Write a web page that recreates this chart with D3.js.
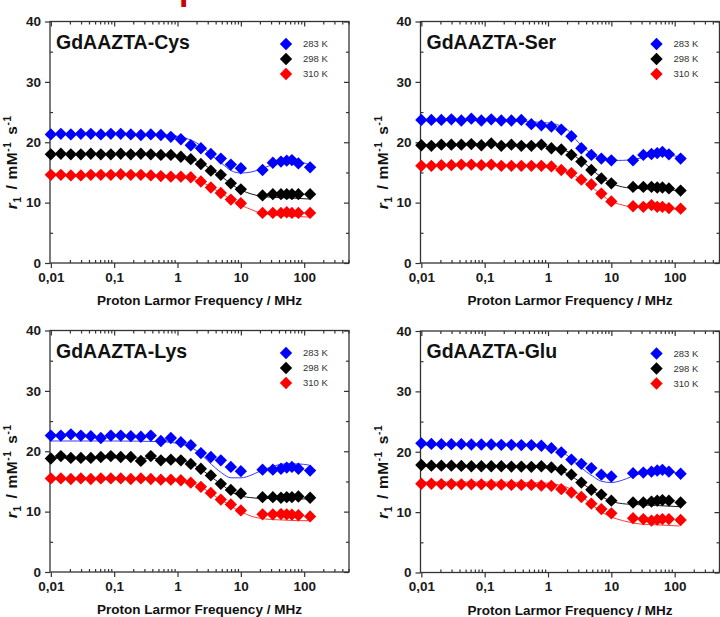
<!DOCTYPE html>
<meta charset="utf-8">
<head>
  <style>
    body { margin:0; background:#fff; }
    svg text { font-family: "Liberation Sans", Arial, sans-serif; }
  </style>
  <script src="https://cdn.jsdelivr.net/npm/d3@7"></script>
</head>
<body>
<svg width="720" height="617"></svg>
<script>
// temperatures / legend
var temps = ["283 K", "298 K", "310 K"]
var markColors = ["#0000ff", "#000000", "#ff0000"]
var lineColors = ["#3c3cff", "#1a1a1a", "#ff3c3c"]

// proton Larmor frequencies (MHz) of the measured points
var freqs = [0.01, 0.0144, 0.0207, 0.0298, 0.0428, 0.0616, 0.0886, 0.127, 0.183, 0.264,
             0.379, 0.546, 0.785, 1.13, 1.62, 2.34, 3.36, 4.83, 6.95, 10,
             22, 32, 43, 53, 64, 81, 124]
// frequencies where the fitted curves were read
var fitFreqs = [0.01, 0.1, 0.5, 1, 1.5, 2, 3, 4, 5, 7, 10, 15, 20, 30, 50, 80, 120]

// GdAAZTA-Cys
var cys283 = [21.3,21.4,21.3,21.4,21.4,21.3,21.4,21.4,21.3,21.2,21.3,21.2,20.9,20.5,19.5,19.0,18.05,17.3,16.3,15.7, 15.4,16.6,16.8,16.95,17.05,16.5,15.85]
var cys298 = [18.0,18.1,18.0,18.0,18.1,18.0,18.0,18.1,18.0,18.1,18.0,17.9,17.9,17.6,17.2,16.4,15.3,14.6,13.2,12.2, 11.2,11.4,11.4,11.4,11.4,11.4,11.4]
var cys310 = [14.6,14.6,14.5,14.5,14.6,14.6,14.6,14.7,14.6,14.6,14.5,14.4,14.3,14.3,14.2,13.5,12.5,11.6,10.5,9.9, 8.3,8.3,8.3,8.4,8.3,8.3,8.3]
var cysFit283 = [21.3,21.3,21.2,21.0,20.5,19.9,18.5,17.3,16.5,15.3,14.9,15.1,15.5,16.2,16.9,16.8,16.3]
var cysFit298 = [18.0,18.0,17.9,17.7,17.3,16.9,15.9,15.0,14.3,13.1,12.1,11.4,11.1,10.9,10.8,10.7,10.6]
var cysFit310 = [14.6,14.6,14.5,14.3,14.0,13.7,12.9,12.1,11.5,10.5,9.6,8.8,8.3,8.0,7.8,7.7,7.6]

// GdAAZTA-Ser
var ser283 = [23.7,23.7,23.7,23.8,23.6,23.9,23.6,23.8,23.6,23.6,23.7,23.0,22.8,22.6,22.1,21.0,19.0,17.9,17.3,17.0, 17.0,17.9,18.05,18.2,18.4,18.0,17.3]
var ser298 = [19.5,19.4,19.6,19.6,19.6,19.7,19.5,19.8,19.4,19.6,19.4,19.4,19.6,19.0,18.8,17.9,16.8,15.4,14.0,13.2, 12.6,12.6,12.6,12.5,12.5,12.35,12.0]
var ser310 = [16.1,16.1,16.2,16.2,16.3,16.3,16.2,16.3,16.1,16.1,16.1,16.1,16.1,16.0,15.4,14.9,13.8,13.0,11.5,10.2, 9.4,9.3,9.6,9.3,9.3,9.1,9.0]
var serFit283 = [23.6,23.6,23.4,23.2,22.8,22.1,20.0,18.8,18.0,17.3,17.0,17.0,17.1,17.4,17.8,17.8,17.6]
var serFit298 = [19.6,19.6,19.5,19.3,18.9,18.5,17.3,16.3,15.4,14.2,13.2,12.6,12.4,12.3,12.2,12.1,12.0]
var serFit310 = [16.1,16.1,16.0,15.9,15.5,15.1,14.1,13.2,12.5,11.3,10.2,9.6,9.3,9.2,9.1,9.0,8.9]

// GdAAZTA-Lys
var lys283 = [22.6,22.6,22.8,22.6,22.5,22.2,22.6,22.6,22.5,22.4,22.6,21.7,22.2,21.5,21.0,19.7,19.05,18.5,17.4,16.7, 16.95,16.95,17.1,17.3,17.4,17.1,16.8]
var lys298 = [18.8,19.2,18.9,18.9,18.9,19.05,19.2,19.05,19.05,18.4,19.2,18.5,18.6,18.5,17.9,17.1,16.0,14.6,13.6,13.0, 12.4,12.4,12.3,12.4,12.4,12.5,12.3]
var lys310 = [15.5,15.5,15.4,15.5,15.4,15.5,15.5,15.5,15.4,15.5,15.4,15.3,15.3,15.2,14.8,14.1,13.1,12.0,11.2,10.2, 9.55,9.55,9.6,9.55,9.5,9.4,9.2]
var lysFit283 = [21.7,21.7,21.6,21.3,20.8,20.1,18.4,17.2,16.4,15.6,15.6,16.1,16.7,17.4,17.9,17.9,17.7]
var lysFit298 = [18.9,18.9,18.8,18.6,18.1,17.5,16.2,15.2,14.5,13.3,12.6,12.3,12.2,12.2,12.2,12.1,12.1]
var lysFit310 = [15.4,15.4,15.3,15.2,14.9,14.5,13.4,12.5,11.9,10.9,10.0,9.2,8.9,8.7,8.6,8.5,8.5]

// GdAAZTA-Glu
var glu283 = [21.4,21.3,21.25,21.25,21.25,21.2,21.2,21.2,21.15,21.15,21.1,21.1,21.0,20.6,19.9,18.7,18.0,17.3,16.2,15.9, 16.45,16.55,16.7,16.9,17.0,16.7,16.35]
var glu298 = [17.8,17.7,17.7,17.7,17.65,17.6,17.6,17.6,17.6,17.55,17.55,17.5,17.6,17.4,17.0,16.2,14.9,13.7,12.9,11.9, 11.6,11.6,11.75,11.9,12.0,11.9,11.6]
var glu310 = [14.7,14.7,14.65,14.65,14.6,14.6,14.6,14.55,14.55,14.5,14.5,14.5,14.4,14.35,13.8,13.25,12.5,11.4,10.5,9.8, 9.0,8.85,8.6,8.75,8.85,8.85,8.7]
var gluFit283 = [21.1,21.1,21.0,20.8,20.2,19.4,17.8,16.7,16.0,15.1,14.9,15.3,15.8,16.4,16.8,16.7,16.4]
var gluFit298 = [17.6,17.6,17.5,17.3,16.9,16.4,15.2,14.3,13.6,12.6,11.8,11.4,11.3,11.2,11.1,11.0,10.9]
var gluFit310 = [15.0,15.0,14.9,14.8,14.5,14.1,13.0,12.0,11.2,10.0,9.2,8.6,8.3,8.0,7.9,7.8,7.7]

var xTicks = [0.01, 0.1, 1, 10, 100]
var yTicks = [0, 10, 20, 30, 40]

var panels = [
  { name: "GdAAZTA-Cys", pts: [cys283, cys298, cys310], fits: [cysFit283, cysFit298, cysFit310], left: 50,    top: 21.5 },
  { name: "GdAAZTA-Ser", pts: [ser283, ser298, ser310], fits: [serFit283, serFit298, serFit310], left: 420.5, top: 21.5 },
  { name: "GdAAZTA-Lys", pts: [lys283, lys298, lys310], fits: [lysFit283, lysFit298, lysFit310], left: 50,    top: 330.5 },
  { name: "GdAAZTA-Glu", pts: [glu283, glu298, glu310], fits: [gluFit283, gluFit298, gluFit310], left: 420.5, top: 331 }
]

var W = 299, H = 241.5

var svg = d3.select("svg")

// red heading, only its lowest part shows at the top of the page
svg.append("text")
  .attr("x", 179).attr("y", 0.3)
  .attr("font-size", 34).attr("font-weight", "bold")
  .attr("fill", "#cc0000")
  .text("profiles")

var x = d3.scaleLog().domain([0.0097, 510]).range([0, W])
var y = d3.scaleLinear().domain([0, 40]).range([H, 0])
var xMinor = x.ticks().filter(function (d) { return xTicks.indexOf(d) < 0 })
var yMinor = [5, 15, 25, 35]

function fmt(d) { return String(d).replace(".", ",") }

var diamond = d3.symbol().type(d3.symbolSquare).size(76)

var line = d3.line()
  .x(function (d) { return x(d[0]) })
  .y(function (d) { return y(d[1]) })
  .curve(d3.curveMonotoneX)

panels.forEach(function (p) {
  var g = svg.append("g").attr("transform", "translate(" + p.left + "," + p.top + ")")

  // axes
  var axes = [
    g.append("g").attr("transform", "translate(0," + H + ")").call(d3.axisBottom(x).tickValues(xTicks).tickFormat(fmt).tickSizeInner(5).tickSizeOuter(0).tickPadding(4)),
    g.append("g").attr("transform", "translate(0," + H + ")").call(d3.axisBottom(x).tickValues(xMinor).tickFormat("").tickSizeInner(-3).tickSizeOuter(0)),
    g.append("g").call(d3.axisTop(x).tickValues(xTicks).tickFormat("").tickSizeInner(-5).tickSizeOuter(0)),
    g.append("g").call(d3.axisTop(x).tickValues(xMinor).tickFormat("").tickSizeInner(-3).tickSizeOuter(0)),
    g.append("g").call(d3.axisLeft(y).tickValues(yTicks).tickSizeInner(5).tickSizeOuter(0).tickPadding(4)),
    g.append("g").call(d3.axisLeft(y).tickValues(yMinor).tickFormat("").tickSizeInner(-3).tickSizeOuter(0)),
    g.append("g").attr("transform", "translate(" + W + ",0)").call(d3.axisRight(y).tickValues(yTicks).tickFormat("").tickSizeInner(-5).tickSizeOuter(0)),
    g.append("g").attr("transform", "translate(" + W + ",0)").call(d3.axisRight(y).tickValues(yMinor).tickFormat("").tickSizeInner(-3).tickSizeOuter(0))
  ]
  axes.forEach(function (a) {
    a.select(".domain").remove()
    a.selectAll("line").attr("stroke", "#333").attr("stroke-width", 1.2)
    a.selectAll("text").attr("font-family", null).attr("font-size", 13.5).attr("font-weight", "bold").attr("fill", "#1a1a1a")
  })

  g.append("rect").attr("width", W).attr("height", H)
    .attr("fill", "none").attr("stroke", "#333").attr("stroke-width", 1.3)

  // fitted curves
  p.fits.forEach(function (f, i) {
    g.append("path")
      .datum(fitFreqs.map(function (fr, k) { return [fr, f[k]] }))
      .attr("fill", "none").attr("stroke", lineColors[i]).attr("stroke-width", 1)
      .attr("d", line)
  })

  // measured points
  p.pts.forEach(function (s, i) {
    g.append("g").selectAll("path")
      .data(s.map(function (v, k) { return [freqs[k], v] }))
      .enter().append("path")
        .attr("d", diamond)
        .attr("fill", markColors[i])
        .attr("transform", function (d) { return "translate(" + x(d[0]) + "," + y(d[1]) + ") rotate(45)" })
  })

  // panel title
  g.append("text").attr("x", 6).attr("y", 27)
    .attr("font-size", 19.5).attr("font-weight", "bold").attr("fill", "#111")
    .text(p.name)

  // legend
  temps.forEach(function (t, i) {
    g.append("path").attr("d", diamond).attr("fill", markColors[i])
      .attr("transform", "translate(236," + (22.5 + i * 15) + ") rotate(45)")
    g.append("text").attr("x", 253).attr("y", 22.5 + i * 15).attr("dy", "0.35em")
      .attr("font-size", 9.5).attr("fill", "#333").text(t)
  })

  // axis titles
  g.append("text").attr("x", W / 2).attr("y", H + 42)
    .attr("text-anchor", "middle").attr("font-size", 13.5).attr("font-weight", "bold").attr("fill", "#111")
    .text("Proton Larmor Frequency / MHz")

  var yl = g.append("text")
    .attr("transform", "translate(-33," + (H / 2 + 20) + ") rotate(-90)")
    .attr("text-anchor", "middle").attr("font-size", 15.5).attr("font-weight", "bold").attr("fill", "#111")
    .attr("letter-spacing", 0.6)
  yl.append("tspan").attr("font-style", "italic").text("r")
  yl.append("tspan").attr("font-size", 10).attr("dy", 4).text("1")
  yl.append("tspan").attr("dy", -4).attr("dx", 2).text(" / mM")
  yl.append("tspan").attr("font-size", 10).attr("dy", -6).text("-1")
  yl.append("tspan").attr("dy", 6).attr("dx", 2).text(" s")
  yl.append("tspan").attr("font-size", 10).attr("dy", -6).text("-1")
})
</script>
</body>
